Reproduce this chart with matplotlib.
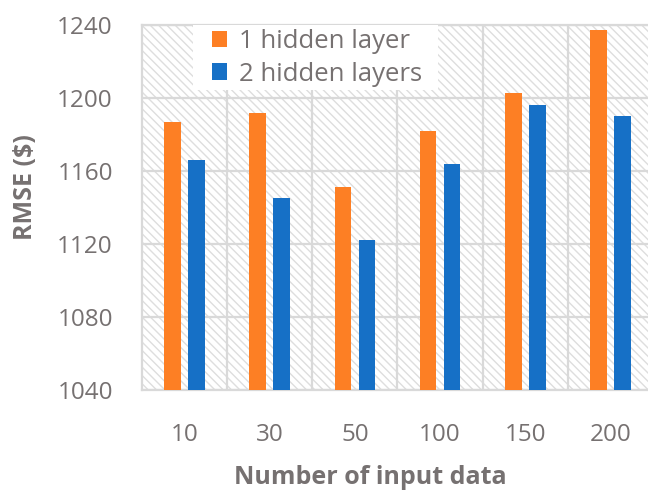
import matplotlib
matplotlib.use("Agg")
import matplotlib.pyplot as plt
from matplotlib.patches import Rectangle
import numpy as np

# RMSE for each input-data size
sizes = ["10", "30", "50", "100", "150", "200"]
one_layer = [1187, 1192, 1151, 1182, 1203, 1237]
two_layers = [1166, 1145, 1122, 1164, 1196, 1190]
yticks = [1040, 1080, 1120, 1160, 1200, 1240]

orange = "#fd7f24"
blue = "#1670c6"
grey_txt = "#767171"
grid_c = "#d9d9d9"

plt.rcParams["font.family"] = ["Open Sans", "DejaVu Sans"]
plt.rcParams["hatch.linewidth"] = 1.0
plt.rcParams["hatch.color"] = "#dedede"

fig = plt.figure(figsize=(6.48, 4.93), dpi=100)
ax = fig.add_axes([142/648, 1 - 390/493, 511/648, 365/493])

# hatched background
ax.patch.set_facecolor("white")
ax.patch.set_hatch("\\\\\\\\")
ax.patch.set_edgecolor("#dedede")

x = np.arange(len(sizes))
w = 0.194
off = 0.141
ax.bar(x - off, one_layer, w, color=orange, label="1 hidden layer", zorder=3)
ax.bar(x + off, two_layers, w, color=blue, label="2 hidden layers", zorder=3)

ax.set_xlim(-0.5, len(sizes) - 0.5)
ax.set_ylim(1040, 1240)
ax.set_yticks(yticks)
ax.set_xticks(x)
ax.set_xticklabels(sizes)
ax.set_xticks(x[:-1] + 0.5, minor=True)
ax.tick_params(axis="both", which="both", length=0, labelsize=17.5, colors=grey_txt)
ax.tick_params(axis="y", pad=21)
ax.tick_params(axis="x", pad=24)
ax.grid(True, axis="y", color=grid_c, linewidth=1.6, zorder=1)
ax.grid(True, axis="x", which="minor", color=grid_c, linewidth=1.6, zorder=1)
for s in ax.spines.values():
    s.set_color(grid_c)
    s.set_linewidth(1.6)

fig.text(25/648, 1 - 187/493, "RMSE ($)", rotation=90, ha="center", va="center",
         fontsize=18, fontweight="bold", color=grey_txt)
fig.text(370/648, 1 - 478/493, "Number of input data", ha="center", va="center",
         fontsize=18, fontweight="bold", color=grey_txt)

# white box behind the legend
ax.add_patch(Rectangle((193/648, 1 - 90/493), 245/648, 65/493,
                       transform=fig.transFigure, facecolor="white",
                       edgecolor="none", zorder=4))
leg = ax.legend(loc="upper left", bbox_to_anchor=(212/648, 1 - 29/493),
                bbox_transform=fig.transFigure, fontsize=18.5, frameon=False,
                handlelength=0.6, handleheight=0.6,
                handletextpad=0.45, labelspacing=0.3, borderpad=0,
                borderaxespad=0)
leg.set_zorder(5)
for t in leg.get_texts():
    t.set_color(grey_txt)

fig.savefig("out.png", dpi=100)
